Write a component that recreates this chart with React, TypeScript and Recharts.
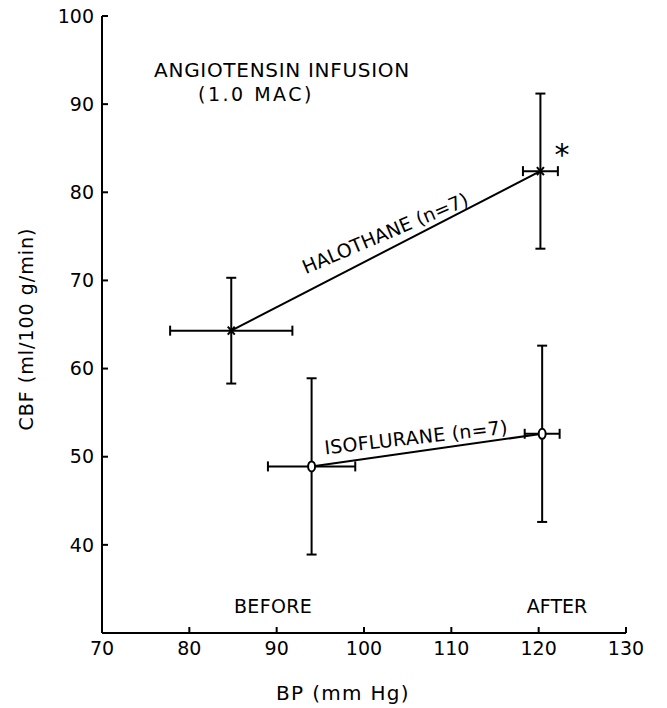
import { ScatterChart, Scatter, XAxis, YAxis, ErrorBar } from 'recharts';

const bpTicks = [70, 80, 90, 100, 110, 120, 130];
const cbfTicks = [40, 50, 60, 70, 80, 90, 100];

const phases = ['BEFORE', 'AFTER'];

const halothaneBP = [84.8, 120.2];
const halothaneCBF = [64.3, 82.4];
const halothaneBPErr = [7, 2];
const halothaneCBFErr = [6, 8.8];

const isofluraneBP = [94, 120.4];
const isofluraneCBF = [48.9, 52.6];
const isofluraneBPErr = [5, 2];
const isofluraneCBFErr = [10, 10];

const FONT = '"DejaVu Sans", sans-serif';

const halothane = phases.map((phase, i) => ({
  phase,
  bp: halothaneBP[i],
  cbf: halothaneCBF[i],
  bpErr: halothaneBPErr[i],
  cbfErr: halothaneCBFErr[i],
}));

const isoflurane = phases.map((phase, i) => ({
  phase,
  bp: isofluraneBP[i],
  cbf: isofluraneCBF[i],
  bpErr: isofluraneBPErr[i],
  cbfErr: isofluraneCBFErr[i],
}));

const CrossMark = ({ cx, cy }: any) => (
  <g stroke="#000" strokeWidth={2}>
    <line x1={cx - 3.5} y1={cy - 4} x2={cx + 3.5} y2={cy + 4} />
    <line x1={cx - 3.5} y1={cy + 4} x2={cx + 3.5} y2={cy - 4} />
  </g>
);

const CircleMark = ({ cx, cy }: any) => (
  <ellipse cx={cx} cy={cy} rx={3.5} ry={5} fill="#fff" stroke="#000" strokeWidth={2} />
);

const txt = { fontFamily: FONT, fill: '#000' };
const tickStyle = { fontSize: 19, fontFamily: FONT, fill: '#000' };
const black = { stroke: '#000', strokeWidth: 2 };

export default function App() {
  return (
    <div style={{ position: 'relative', width: 659, height: 708, marginTop: -8 }}>
      <ScatterChart width={659} height={708} margin={{ top: 16, right: 41, left: 0, bottom: 0 }}>
        {/* negative tickSize points the ticks into the plot */}
        <XAxis
          type="number"
          dataKey="bp"
          domain={[70, 130]}
          ticks={bpTicks}
          height={75}
          axisLine={black}
          tickLine={black}
          tickSize={-6}
          tickMargin={15}
          tick={tickStyle}
          interval={0}
        />
        <YAxis
          type="number"
          dataKey="cbf"
          domain={[30, 100]}
          ticks={cbfTicks}
          width={94}
          axisLine={black}
          tickLine={black}
          tickSize={-6}
          tickMargin={14}
          tick={tickStyle}
          interval={0}
        />
        <Scatter
          name="Halothane"
          data={halothane}
          line={black}
          shape={<CrossMark />}
          isAnimationActive={false}
        >
          <ErrorBar dataKey="bpErr" direction="x" width={5} stroke="#000" strokeWidth={2} />
          <ErrorBar dataKey="cbfErr" direction="y" width={5} stroke="#000" strokeWidth={2} />
        </Scatter>
        <Scatter
          name="Isoflurane"
          data={isoflurane}
          line={black}
          shape={<CircleMark />}
          isAnimationActive={false}
        >
          <ErrorBar dataKey="bpErr" direction="x" width={5} stroke="#000" strokeWidth={2} />
          <ErrorBar dataKey="cbfErr" direction="y" width={5} stroke="#000" strokeWidth={2} />
        </Scatter>
      </ScatterChart>
      <svg
        width={659}
        height={708}
        style={{ position: 'absolute', left: 0, top: 0, pointerEvents: 'none' }}
      >
        <text x={274} y={77} textAnchor="middle" fontSize={20} letterSpacing={0.7} {...txt}>
          ANGIOTENSIN INFUSION
        </text>
        <text x={248} y={101} textAnchor="middle" fontSize={19} letterSpacing={2.5} {...txt}>
          (1.0 MAC)
        </text>
        <text x={554} y={165} textAnchor="middle" fontSize={30} {...txt}>
          *
        </text>
        <g transform="translate(377,233) rotate(-23)">
          <text x={0} y={7} textAnchor="middle" fontSize={19} {...txt}>
            HALOTHANE (n=7)
          </text>
        </g>
        <g transform="translate(408,437) rotate(-6.5)">
          <text x={0} y={7} textAnchor="middle" fontSize={19} letterSpacing={0.3} {...txt}>
            ISOFLURANE (n=7)
          </text>
        </g>
        <text x={265} y={613} textAnchor="middle" fontSize={19} letterSpacing={0.3} {...txt}>
          {phases[0]}
        </text>
        <text x={549} y={613} textAnchor="middle" fontSize={19} {...txt}>
          {phases[1]}
        </text>
        <text x={335} y={700} textAnchor="middle" fontSize={20} letterSpacing={1.3} {...txt}>
          BP (mm Hg)
        </text>
        <text
          x={18}
          y={329}
          transform="rotate(-90 18 329)"
          textAnchor="middle"
          dominantBaseline="central"
          fontSize={19}
          letterSpacing={1}
          {...txt}
        >
          CBF (ml/100 g/min)
        </text>
      </svg>
    </div>
  );
}
